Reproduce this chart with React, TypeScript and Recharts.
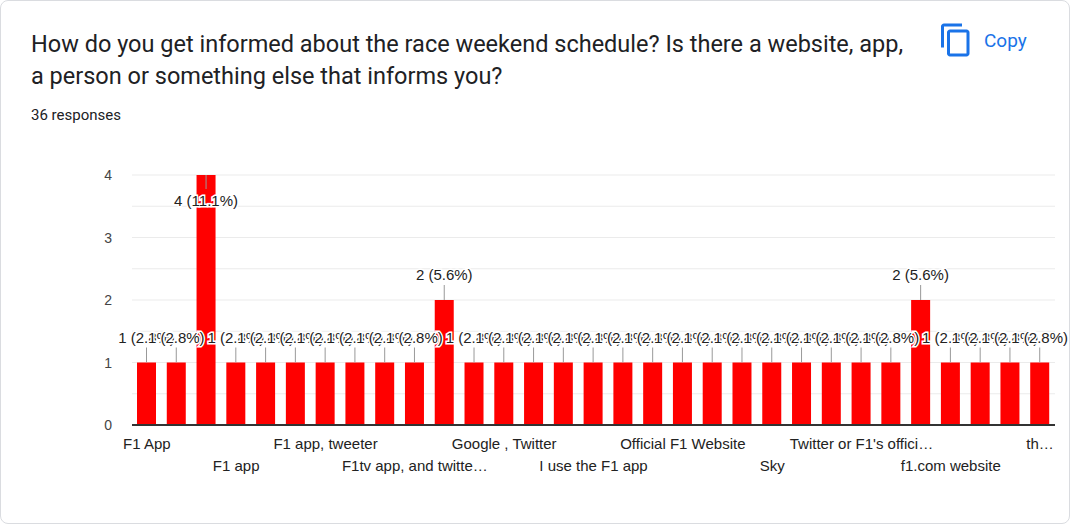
import React from "react";
import { BarChart, Bar, XAxis, YAxis, CartesianGrid, LabelList } from "recharts";

const categories = [
  "F1 App", "F1 App and Twitter", "F1 Website", "F1 app", "F1 app and website", "F1 app notifications",
  "F1 app, tweeter", "F1 social media", "F1 website", "F1tv app, and twitte…", "Google", "Google Calendar",
  "Google , Twitter", "Google search", "Instagram", "I use the F1 app", "My calendar", "News",
  "Official F1 Website", "Reddit", "Official app", "Sky", "Sky Sports", "Twitter",
  "Twitter or F1's offici…", "YouTube", "f1 app", "f1.com website", "friends", "formula1.com", "th…",
];
const values = [1, 1, 4, 1, 1, 1, 1, 1, 1, 1, 2, 1, 1, 1, 1, 1, 1, 1, 1, 1, 1, 1, 1, 1, 1, 1, 2, 1, 1, 1, 1];
const total = 36;
const data = categories.map((name, i) => ({ name, value: values[i] }));
const maxV = Math.max(...values);
const yTicks = [0, 0.5, 1, 1.5, 2, 2.5, 3, 3.5, 4];

const FONT = "'Liberation Sans', Arial, sans-serif";

const XTick = (props: any) => {
  const { x, y, payload, index } = props;
  if (index % 3 !== 0) return null;
  const row = (index / 3) % 2;
  return (
    <text x={x} y={y + 16 + row * 22} textAnchor="middle" fontSize={15} fill="#222" fontFamily={FONT}>
      {payload.value}
    </text>
  );
};

const YTick = (props: any) => {
  const { x, y, payload } = props;
  if (!Number.isInteger(payload.value)) return null;
  return (
    <text x={x} y={y + 5} textAnchor="end" fontSize={14} fill="#444" fontFamily={FONT}>
      {payload.value}
    </text>
  );
};

const BarLabel = (props: any) => {
  const { x, y, width, value } = props;
  const cx = x + width / 2;
  const pct = ((value / total) * 100).toFixed(1);
  const txt = `${value} (${pct}%)`;
  if (value === maxV) {
    return (
      <g>
        <line x1={cx} x2={cx} y1={y} y2={y + 14} stroke="#999" />
        <text x={cx} y={y + 31} textAnchor="middle" fontSize={15} fill="#222" fontFamily={FONT}
          stroke="#fff" strokeWidth={3} paintOrder="stroke">{txt}</text>
      </g>
    );
  }
  return (
    <g>
      <line x1={cx} x2={cx} y1={y} y2={y - 15} stroke="#999" />
      <text x={cx} y={y - 20} textAnchor="middle" fontSize={15} fill="#222" fontFamily={FONT}
        stroke="#fff" strokeWidth={3} paintOrder="stroke">{txt}</text>
    </g>
  );
};

export default function App() {
  return (
    <div style={{ position: "absolute", left: 0, top: 0, width: 1075, height: 529, background: "#fff", overflow: "hidden" }}>
      <div style={{ position: "absolute", left: 0, top: 0, width: 1068, height: 522, border: "1px solid #dadce0", borderRadius: 8 }} />
      <div style={{ position: "absolute", left: 31, top: 28, width: 885, fontFamily: "Roboto, sans-serif", fontSize: 23.5, lineHeight: "32px", color: "#202124" }}>
        How do you get informed about the race weekend schedule? Is there a website, app, a person or something else that informs you?
      </div>
      <div style={{ position: "absolute", left: 31, top: 106, fontFamily: "Roboto, sans-serif", fontSize: 15, color: "#202124" }}>
        36 responses
      </div>
      <div style={{ position: "absolute", left: 938, top: 22, display: "flex", alignItems: "center", color: "#1a73e8", fontFamily: "Roboto, sans-serif", fontSize: 19 }}>
        <svg width="36" height="36" viewBox="0 0 24 24">
          <path fill="#1a73e8" d="M16 1H4c-1.1 0-2 .9-2 2v14h2V3h12V1zm3 4H8c-1.1 0-2 .9-2 2v14c0 1.1.9 2 2 2h11c1.1 0 2-.9 2-2V7c0-1.1-.9-2-2-2zm0 16H8V7h11v14z" />
        </svg>
        <span style={{ marginLeft: 10 }}>Copy</span>
      </div>
      <div style={{ position: "absolute", left: 0, top: 150 }}>
        <BarChart width={1075} height={340} data={data} margin={{ top: 25, right: 20, bottom: 35, left: 0 }} barSize={19}>
          <CartesianGrid vertical={false} stroke="#ebebeb" />
          <XAxis dataKey="name" interval={0} height={30} tick={<XTick />} tickLine={false} axisLine={{ stroke: "#333", strokeWidth: 2 }} />
          <YAxis width={132} domain={[0, 4]} ticks={yTicks} tick={<YTick />} tickLine={false} axisLine={false} tickMargin={14} />
          <Bar dataKey="value" fill="#ff0000" isAnimationActive={false}>
            <LabelList dataKey="value" content={<BarLabel />} />
          </Bar>
        </BarChart>
      </div>
    </div>
  );
}
